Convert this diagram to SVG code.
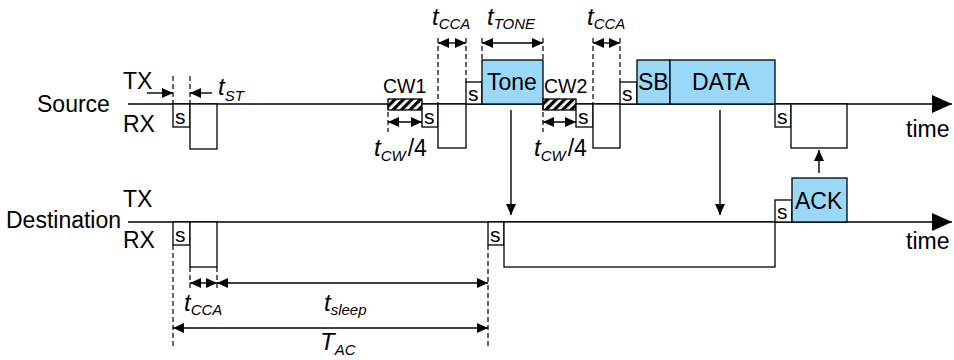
<svg xmlns="http://www.w3.org/2000/svg" width="954" height="360" viewBox="0 0 954 360">
<style>
text{font-family:"Liberation Sans",Arial,sans-serif;fill:#000}
.lbl{font-size:23px}
.s{font-size:21px}
.cw{font-size:19.5px}
.t{font-size:24px;font-style:italic}
.sub{font-size:15px;font-style:italic}
.box{fill:#fff;stroke:#000;stroke-width:1.3}
.blue{fill:#99d8f8;stroke:#000;stroke-width:1.3}
.hatch{fill:url(#hp);stroke:#000;stroke-width:1.3}
.axis{stroke:#000;stroke-width:1.5;fill:none}
.dash{stroke:#000;stroke-width:1.2;stroke-dasharray:5,3;fill:none}
.arr{stroke:#000;stroke-width:1.4;fill:none}
</style>
<defs>
<pattern id="hp" patternUnits="userSpaceOnUse" width="6" height="10" patternTransform="rotate(45)">
<rect x="0" y="0" width="6" height="10" fill="#fff"/>
<rect x="0" y="0" width="3.2" height="10" fill="#000"/>
</pattern>
<marker id="ah" markerUnits="userSpaceOnUse" markerWidth="11" markerHeight="10" refX="11" refY="5" orient="auto-start-reverse">
<path d="M0,0 L11,5 L0,10 z" fill="#000"/>
</marker>
<marker id="big" markerUnits="userSpaceOnUse" markerWidth="20" markerHeight="18" refX="20" refY="9" orient="auto">
<path d="M0,0 L20,9 L0,18 z" fill="#000"/>
</marker>
</defs>
<rect width="954" height="360" fill="#fff"/>

<g id="labels">
<text class="lbl" x="37" y="112">Source</text>
<text class="lbl" x="123" y="89">TX</text>
<text class="lbl" x="123" y="132">RX</text>
<text class="lbl" x="6" y="228">Destination</text>
<text class="lbl" x="123" y="207">TX</text>
<text class="lbl" x="123" y="248">RX</text>
<text class="lbl" x="906" y="137">time</text>
<text class="lbl" x="906" y="249">time</text>
</g>

<g id="axes">
<line class="axis" x1="128" y1="104" x2="952" y2="104" marker-end="url(#big)"/>
<line class="axis" x1="128" y1="222" x2="952" y2="222" marker-end="url(#big)"/>
</g>

<g id="src-s1"><rect class="box" x="173" y="104" width="17" height="23"/><text class="s" x="175" y="124">s</text></g>
<g id="src-rx1"><rect class="box" x="190" y="104" width="27" height="45"/></g>

<g id="cw1"><rect class="hatch" x="388" y="99" width="34" height="11"/><text class="cw" x="383" y="93">CW1</text></g>
<g id="src-s2"><rect class="box" x="422" y="104" width="16" height="23"/><text class="s" x="424" y="124">s</text></g>
<g id="src-rx2"><rect class="box" x="438" y="104" width="28" height="44"/></g>
<g id="src-s3"><rect class="box" x="466" y="82" width="16" height="22"/><text class="s" x="468" y="101">s</text></g>
<g id="tone"><rect class="blue" x="482" y="60" width="61" height="44"/><text class="lbl" x="487" y="90">Tone</text></g>

<g id="cw2"><rect class="hatch" x="543" y="99" width="33" height="11"/><text class="cw" x="544" y="93">CW2</text></g>
<g id="src-s4"><rect class="box" x="576" y="104" width="17" height="23"/><text class="s" x="578" y="124">s</text></g>
<g id="src-rx3"><rect class="box" x="593" y="104" width="27" height="44"/></g>
<g id="src-s5"><rect class="box" x="620" y="82" width="17" height="22"/><text class="s" x="622" y="101">s</text></g>
<g id="sb"><rect class="blue" x="637" y="60" width="33" height="44"/><text class="lbl" x="638" y="90">SB</text></g>
<g id="data"><rect class="blue" x="670" y="60" width="105" height="44"/><text class="lbl" x="692" y="90">DATA</text></g>
<g id="src-s6"><rect class="box" x="775" y="104" width="16" height="23"/><text class="s" x="777" y="124">s</text></g>
<g id="src-rx4"><rect class="box" x="791" y="104" width="56" height="44"/></g>

<g id="dst-s1"><rect class="box" x="173" y="222" width="17" height="23"/><text class="s" x="175" y="242">s</text></g>
<g id="dst-rx1"><rect class="box" x="190" y="222" width="27" height="45"/></g>
<g id="dst-s2"><rect class="box" x="488" y="222" width="16" height="23"/><text class="s" x="490" y="242">s</text></g>
<g id="dst-rx2"><rect class="box" x="504" y="222" width="271" height="45"/></g>
<g id="dst-s3"><rect class="box" x="775" y="200" width="17" height="22"/><text class="s" x="777" y="219">s</text></g>
<g id="ack"><rect class="blue" x="792" y="178" width="55" height="44"/><text class="lbl" x="795" y="209">ACK</text></g>

<g id="dashes">
<line class="dash" x1="173" y1="76" x2="173" y2="104"/>
<line class="dash" x1="190" y1="76" x2="190" y2="104"/>
<line class="dash" x1="388" y1="104" x2="388" y2="132"/>
<line class="dash" x1="438" y1="38" x2="438" y2="104"/>
<line class="dash" x1="466" y1="38" x2="466" y2="82"/>
<line class="dash" x1="482" y1="38" x2="482" y2="60"/>
<line class="dash" x1="543" y1="38" x2="543" y2="60"/>
<line class="dash" x1="543" y1="104" x2="543" y2="132"/>
<line class="dash" x1="593" y1="38" x2="593" y2="104"/>
<line class="dash" x1="620" y1="38" x2="620" y2="82"/>
<line class="dash" x1="173" y1="245" x2="173" y2="348"/>
<line class="dash" x1="190" y1="267" x2="190" y2="290"/>
<line class="dash" x1="217" y1="267" x2="217" y2="290"/>
<line class="dash" x1="488" y1="245" x2="488" y2="348"/>
</g>

<g id="connectors">
<line class="arr" x1="147" y1="93" x2="173" y2="93" marker-end="url(#ah)"/>
<line class="arr" x1="212" y1="93" x2="190" y2="93" marker-end="url(#ah)"/>
<line class="arr" x1="438" y1="43" x2="466" y2="43" marker-start="url(#ah)" marker-end="url(#ah)"/>
<line class="arr" x1="482" y1="43" x2="543" y2="43" marker-start="url(#ah)" marker-end="url(#ah)"/>
<line class="arr" x1="593" y1="43" x2="620" y2="43" marker-start="url(#ah)" marker-end="url(#ah)"/>
<line class="arr" x1="388" y1="122" x2="422" y2="122" marker-start="url(#ah)" marker-end="url(#ah)"/>
<line class="arr" x1="543" y1="122" x2="576" y2="122" marker-start="url(#ah)" marker-end="url(#ah)"/>
<line class="arr" x1="511" y1="110" x2="511" y2="215" marker-end="url(#ah)"/>
<line class="arr" x1="720" y1="110" x2="720" y2="215" marker-end="url(#ah)"/>
<line class="arr" x1="819" y1="173" x2="819" y2="150" marker-end="url(#ah)"/>
<line class="arr" x1="190" y1="283" x2="217" y2="283" marker-start="url(#ah)" marker-end="url(#ah)"/>
<line class="arr" x1="217" y1="283" x2="488" y2="283" marker-start="url(#ah)" marker-end="url(#ah)"/>
<line class="arr" x1="173" y1="328" x2="488" y2="328" marker-start="url(#ah)" marker-end="url(#ah)"/>
</g>

<g id="timing-labels">
<text x="218" y="95"><tspan class="t">t</tspan><tspan class="sub" dy="6">ST</tspan></text>
<text x="432" y="25"><tspan class="t">t</tspan><tspan class="sub" dy="4">CCA</tspan></text>
<text x="487" y="25"><tspan class="t">t</tspan><tspan class="sub" dy="4">TONE</tspan></text>
<text x="587" y="25"><tspan class="t">t</tspan><tspan class="sub" dy="4">CCA</tspan></text>
<text x="374" y="156"><tspan class="t">t</tspan><tspan class="sub" dy="5">CW</tspan><tspan class="lbl" dy="-5" dx="2">/4</tspan></text>
<text x="534" y="156"><tspan class="t">t</tspan><tspan class="sub" dy="5">CW</tspan><tspan class="lbl" dy="-5" dx="2">/4</tspan></text>
<text x="184" y="311"><tspan class="t">t</tspan><tspan class="sub" dy="4">CCA</tspan></text>
<text x="324" y="311"><tspan class="t">t</tspan><tspan class="sub" dy="4">sleep</tspan></text>
<text x="320" y="350"><tspan class="t">T</tspan><tspan class="sub" dy="5">AC</tspan></text>
</g>
</svg>
